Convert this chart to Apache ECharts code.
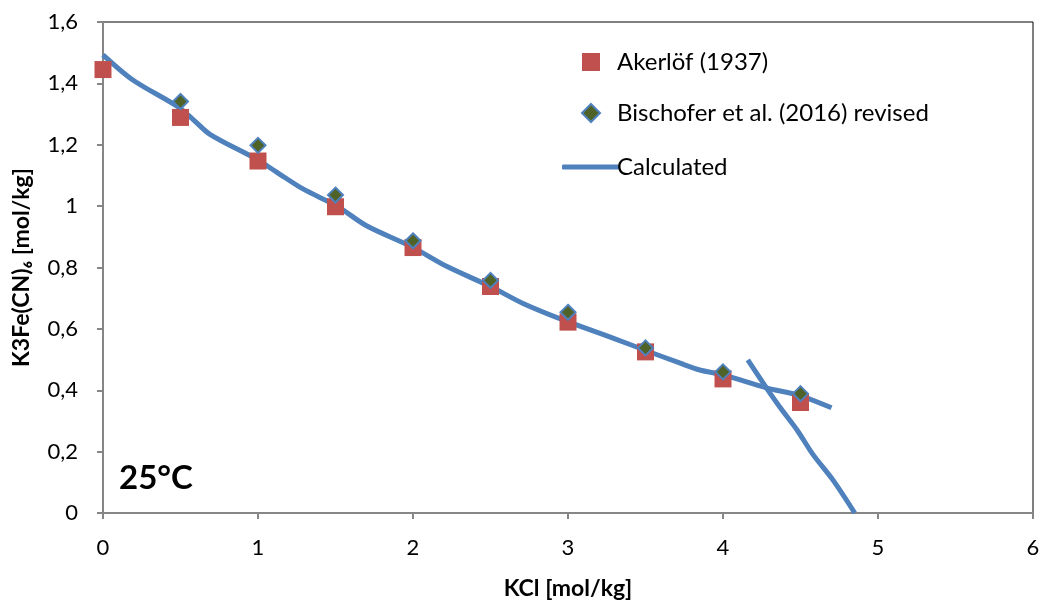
<!DOCTYPE html>
<html>
<head>
    <meta charset="utf-8">
    <script src="https://cdnjs.cloudflare.com/ajax/libs/echarts/6.0.0/echarts.min.js"></script>
</head>
<body>
    <div id="main"></div>
    <style>
html,body { margin: 0; padding: 0; background: #fff; }
#main { width: 1044px; height: 605px; }
    </style>
    <script type="text/javascript">
var kcl = [0, 0.5, 1, 1.5, 2, 2.5, 3, 3.5, 4, 4.5];
var akerlof = [1.445, 1.289, 1.147, 0.998, 0.865, 0.738, 0.622, 0.525, 0.437, 0.360];
var bischoferX = [0.5, 1, 1.5, 2, 2.5, 3, 3.5, 4, 4.5];
var bischofer = [1.341, 1.198, 1.036, 0.887, 0.758, 0.654, 0.538, 0.460, 0.389];
// calculated curve, branch 1 (K3Fe(CN)6 saturated)
var calcX = [0, 0.19, 0.48, 0.58, 0.69, 0.99, 1.12, 1.29, 1.51, 1.70, 1.99, 2.22, 2.50, 2.71, 2.99, 3.29, 3.51, 3.72, 3.85, 4.0, 4.28, 4.50, 4.70];
var calcY = [1.493, 1.412, 1.325, 1.283, 1.234, 1.153, 1.111, 1.056, 1.0, 0.936, 0.868, 0.803, 0.738, 0.683, 0.625, 0.570, 0.528, 0.489, 0.466, 0.450, 0.408, 0.382, 0.343];
// branch 2 (KCl saturated)
var calc2X = [4.16, 4.28, 4.37, 4.48, 4.58, 4.71, 4.85];
var calc2Y = [0.499, 0.408, 0.343, 0.269, 0.191, 0.107, 0.0];

function pairs(xs, ys) {
    return xs.map(function (x, i) { return [x, ys[i]]; });
}

var font = 'Lato';
var chart = echarts.init(document.getElementById('main'));
chart.setOption({
    animation: false,
    textStyle: { fontFamily: font },
    grid: { left: 103, right: 11, top: 22, bottom: 89, show: true, borderColor: '#000', borderWidth: 1 },
    legend: [{
        data: ['Akerlöf (1937)', 'Bischofer et al. (2016) revised'],
        orient: 'vertical', left: 576, top: 45, itemGap: 27,
        itemWidth: 18, itemHeight: 18,
        textStyle: { fontFamily: font, fontSize: 24, color: '#000', padding: [0, 0, 0, 12] }
    }, {
        data: [{ name: 'Calculated', icon: 'roundRect' }],
        left: 557, top: 150, itemWidth: 57, itemHeight: 5,
        textStyle: { fontFamily: font, fontSize: 24, color: '#000', padding: [0, 0, 0, -7] }
    }],
    xAxis: {
        type: 'value', min: 0, max: 6, interval: 1,
        name: 'KCl [mol/kg]', nameLocation: 'middle', nameGap: 64,
        nameTextStyle: { fontFamily: font, fontSize: 23, fontWeight: 'bold', color: '#000' },
        axisLine: { onZero: false, lineStyle: { color: '#868686', width: 2 } },
        axisTick: { show: true, length: 6, lineStyle: { color: '#868686', width: 2 } },
        axisLabel: { fontFamily: font, fontSize: 22, color: '#000', margin: 24 },
        splitLine: { show: false }
    },
    yAxis: {
        type: 'value', min: 0, max: 1.6, interval: 0.2,
        name: 'K3Fe(CN)\u2086 [mol/kg]', nameLocation: 'middle', nameGap: 70,
        nameTextStyle: { fontFamily: font, fontSize: 23, fontWeight: 'bold', color: '#000' },
        axisLine: { show: true, lineStyle: { color: '#868686', width: 2 } },
        axisTick: { show: true, length: 6, lineStyle: { color: '#868686', width: 2 } },
        axisLabel: {
            fontFamily: font, fontSize: 22, color: '#000', margin: 25,
            formatter: function (v) { return String(Math.round(v * 10) / 10).replace('.', ','); }
        },
        splitLine: { show: false }
    },
    graphic: [{
        type: 'text', left: 119, top: 462,
        style: { text: '25°C', fontFamily: font, fontSize: 33, fontWeight: 'bold', fill: '#000' }
    }],
    series: [{
        name: 'Calculated', type: 'line', data: pairs(calcX, calcY),
        symbol: 'none', smooth: 0.3, z: 2,
        lineStyle: { color: '#4F81BD', width: 5 }, itemStyle: { color: '#4F81BD' }
    }, {
        name: 'Calculated', type: 'line', data: pairs(calc2X, calc2Y),
        symbol: 'none', smooth: 0.3, z: 2,
        lineStyle: { color: '#4F81BD', width: 5 }, itemStyle: { color: '#4F81BD' }
    }, {
        name: 'Akerlöf (1937)', type: 'scatter', data: pairs(kcl, akerlof),
        symbol: 'rect', symbolSize: 17, z: 3,
        itemStyle: { color: '#C0504D', opacity: 1 }
    }, {
        name: 'Bischofer et al. (2016) revised', type: 'scatter', data: pairs(bischoferX, bischofer),
        symbol: 'diamond', symbolSize: 15, z: 4,
        itemStyle: { color: '#4F6228', borderColor: '#4F81BD', borderWidth: 2, opacity: 1 }
    }]
});
    </script>
</body>
</html>
